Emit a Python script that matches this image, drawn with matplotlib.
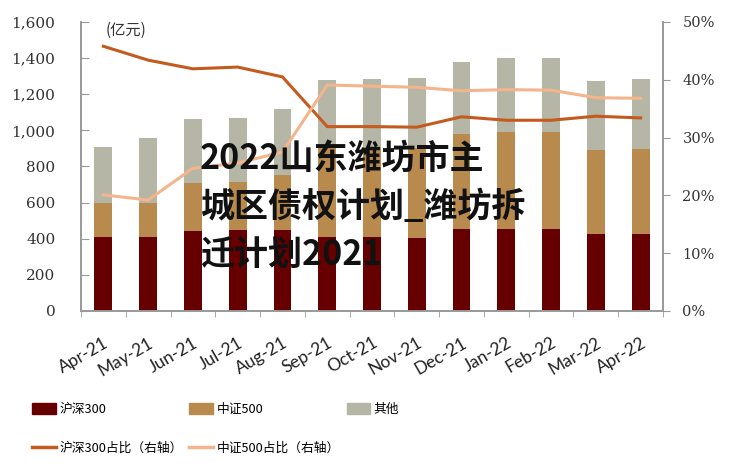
import numpy as np
import matplotlib
matplotlib.use("Agg")
import matplotlib.pyplot as plt
from matplotlib.patches import Patch
from matplotlib.lines import Line2D

plt.rcParams['font.family'] = ['Noto Sans CJK SC', 'DejaVu Sans']

# ======================
# 数据
# ======================
months = ["Apr-21", "May-21", "Jun-21", "Jul-21", "Aug-21", "Sep-21", "Oct-21",
          "Nov-21", "Dec-21", "Jan-22", "Feb-22", "Mar-22", "Apr-22"]
hs300 = [410, 410, 443, 448, 448, 410, 410, 405, 454, 454, 454, 426, 426]
zz500 = [188, 188, 266, 266, 305, 499, 500, 500, 526, 537, 537, 466, 471]
other = [310, 360, 354, 355, 365, 370, 374, 385, 399, 409, 409, 382, 387]
hs300_pct = [45.8, 43.4, 41.9, 42.2, 40.5, 31.9, 31.9, 31.8, 33.6, 33.0, 33.0, 33.7, 33.4]
zz500_pct = [20.1, 19.2, 24.7, 25.6, 27.5, 39.1, 38.9, 38.7, 38.1, 38.3, 38.2, 36.9, 36.8]

c_hs = "#660000"
c_zz = "#B98A4E"
c_ot = "#B6B6A6"
c_hs_line = "#C55A1E"
c_zz_line = "#F4B48C"
c_axis = "#999999"

# ======================
# 画图
# ======================
fig = plt.figure(figsize=(7.33, 4.73), dpi=100)
ax = fig.add_axes([0.1105, 0.3425, 0.794, 0.611])
ax2 = ax.twinx()

x = np.arange(len(months))
w = 0.4
ax.bar(x, hs300, w, color=c_hs, zorder=2)
ax.bar(x, zz500, w, bottom=hs300, color=c_zz, zorder=2)
ax.bar(x, other, w, bottom=np.array(hs300) + np.array(zz500), color=c_ot, zorder=2)

ax2.plot(x, hs300_pct, color=c_hs_line, lw=2.2)
ax2.plot(x, zz500_pct, color=c_zz_line, lw=2.2)

ax.set_xlim(-0.5, len(months) - 0.5)
ax.set_ylim(0, 1600)
ax2.set_ylim(0, 50)

ax.set_yticks(range(0, 1601, 200))
ax.set_yticklabels([f"{v:,}" for v in range(0, 1601, 200)],
                   family="DejaVu Serif", fontsize=11, color="#333333")
ax2.set_yticks(range(0, 51, 10))
ax2.set_yticklabels([f"{v}%" for v in range(0, 51, 10)],
                    family="DejaVu Serif", fontsize=10.5, color="#333333")

ax.set_xticks(x)
ax.set_xticklabels(months, rotation=30, ha="right", rotation_mode="anchor",
                   family="Lato", fontsize=12.5, color="#222222")
ax.set_xticks(np.arange(-0.5, len(months), 1), minor=True)
ax.tick_params(axis="x", which="major", length=0, pad=17)
ax.tick_params(axis="x", which="minor", length=4.5, color=c_axis, direction="out")
ax.tick_params(axis="y", direction="in", length=6, color=c_axis, pad=18.5)
ax2.tick_params(axis="y", direction="out", length=5, color=c_axis, pad=9)

for a in (ax, ax2):
    a.spines["top"].set_visible(False)
    for s in ("left", "right", "bottom"):
        a.spines[s].set_color(c_axis)
        a.spines[s].set_linewidth(1.2)

ax.text(0.042, 1.0, "(亿元)", transform=ax.transAxes, fontsize=11,
        color="#333333", va="top", ha="left")

# 图例
handles = [Patch(color=c_hs), Line2D([], [], color=c_hs_line, lw=2.5),
           Patch(color=c_zz), Line2D([], [], color=c_zz_line, lw=2.5),
           Patch(color=c_ot)]
labels = ["沪深300", "沪深300占比（右轴）", "中证500", "中证500占比（右轴）", "其他"]
fig.legend(handles, labels, ncol=3, loc="upper left", bbox_to_anchor=(0.044, 0.148),
           frameon=False, fontsize=9.2, handlelength=1.85, handleheight=0.9,
           handletextpad=0.25, columnspacing=0.55, labelspacing=2.05,
           borderaxespad=0, borderpad=0)

# 叠加标题文字
title_lines = ["2022山东潍坊市主", "城区债权计划_潍坊拆", "迁计划2021"]
for i, t in enumerate(title_lines):
    fig.text(200 / 733, 1 - (158 + i * 48) / 473, t, fontsize=24.5, weight="bold",
             color="#111111", va="center", ha="left")

fig.savefig("out.png", dpi=100)
